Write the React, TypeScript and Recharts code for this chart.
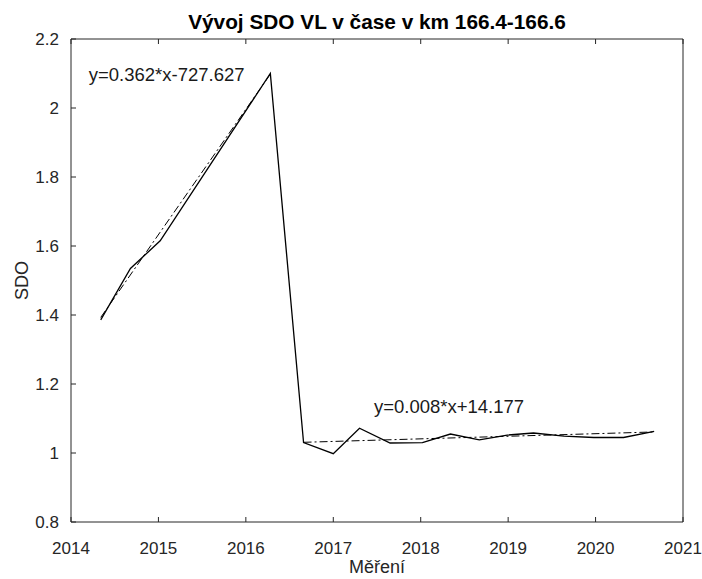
import React from 'react';
import { LineChart, Line, XAxis, YAxis, ReferenceDot } from 'recharts';

// roky měření a hodnoty SDO
const roky = [2014.34, 2014.68, 2015.02, 2016.28, 2016.66, 2017.0, 2017.3, 2017.65, 2018.02, 2018.34, 2018.67, 2018.99, 2019.29, 2019.64, 2019.98, 2020.32, 2020.67];
const sdo = [1.386, 1.535, 1.615, 2.1, 1.03, 0.998, 1.072, 1.029, 1.03, 1.055, 1.038, 1.052, 1.058, 1.049, 1.045, 1.045, 1.063];

// lineární trendy (dva úseky)
const trend1X = [2014.34, 2016.28];
const trend1Y = [1.393, 2.098];
const trend2X = [2016.66, 2020.67];
const trend2Y = [1.031, 1.061];

const xTicks = [2014, 2015, 2016, 2017, 2018, 2019, 2020, 2021];
const yTicks = [0.8, 1, 1.2, 1.4, 1.6, 1.8, 2, 2.2];

const titulek = 'Vývoj SDO VL v čase v km 166.4-166.6';
const rovnice1 = 'y=0.362*x-727.627';
const rovnice2 = 'y=0.008*x+14.177';

const data = roky.map((x, i) => ({ x, y: sdo[i] }));
const trend1 = trend1X.map((x, i) => ({ x, y: trend1Y[i] }));
const trend2 = trend2X.map((x, i) => ({ x, y: trend2Y[i] }));

const ink = '#262626';
const TICK = 5;
const fmtY = (v: number) => String(Number(v.toFixed(1)));

// ticks drawn inward (MATLAB style) together with the label
const BottomTick = (props: any) => {
  const { x, y, payload } = props;
  const axisY = y - 20;
  return (
    <g>
      <line x1={x} x2={x} y1={axisY} y2={axisY - TICK} stroke={ink} />
      <text x={x} y={y} dy="0.71em" textAnchor="middle" fontSize={17} fill={ink}>{payload.value}</text>
    </g>
  );
};

const LeftTick = (props: any) => {
  const { x, y, payload } = props;
  const axisX = x + 12;
  return (
    <g>
      <line x1={axisX} x2={axisX + TICK} y1={y} y2={y} stroke={ink} />
      <text x={x} y={y} dy="0.355em" textAnchor="end" fontSize={17} fill={ink}>{fmtY(payload.value)}</text>
    </g>
  );
};

export default function App() {
  return (
    <div style={{ position: 'absolute', left: 0, top: 0, fontFamily: '"Liberation Sans", Arial, sans-serif', background: '#fff' }}>
      <LineChart width={702} height={579} data={data} margin={{ top: 39, right: 19, left: 0, bottom: 0 }}>
        <XAxis
          dataKey="x"
          type="number"
          domain={[2014, 2021]}
          ticks={xTicks}
          height={57}
          stroke={ink}
          tickLine={false}
          tickSize={0}
          tickMargin={20}
          tick={<BottomTick />}
          label={{ value: 'Měření', position: 'insideBottom', offset: 6, fontSize: 18, fill: ink }}
        />
        <XAxis
          xAxisId="top"
          dataKey="x"
          type="number"
          orientation="top"
          domain={[2014, 2021]}
          ticks={xTicks}
          height={1}
          mirror
          stroke={ink}
          tickSize={TICK}
          tickFormatter={() => ''}
          label={{ value: titulek, position: 'top', offset: 10, fontSize: 20.8, fontWeight: 'bold', fill: '#000' }}
        />
        <YAxis
          type="number"
          domain={[0.8, 2.2]}
          ticks={yTicks}
          width={71}
          stroke={ink}
          tickLine={false}
          tickSize={0}
          tickMargin={12}
          tick={<LeftTick />}
          label={{ value: 'SDO', angle: -90, position: 'insideLeft', offset: 22, fontSize: 18, fill: ink, style: { textAnchor: 'middle' } }}
        />
        <YAxis
          yAxisId="right"
          orientation="right"
          type="number"
          domain={[0.8, 2.2]}
          ticks={yTicks}
          width={1}
          mirror
          stroke={ink}
          tickSize={TICK}
          tickFormatter={() => ''}
        />
        <Line data={trend1} dataKey="y" stroke="#000" strokeWidth={1} strokeDasharray="8 3 2 3" dot={false} isAnimationActive={false} />
        <Line data={trend2} dataKey="y" stroke="#000" strokeWidth={1} strokeDasharray="8 3 2 3" dot={false} isAnimationActive={false} />
        <Line dataKey="y" stroke="#000" strokeWidth={1.3} dot={false} isAnimationActive={false} />
        <ReferenceDot x={2015.094} y={2.098} r={0} stroke="none" label={{ value: rovnice1, position: 'center', fontSize: 18.5, fill: '#1a1a1a' }} />
        <ReferenceDot x={2018.324} y={1.134} r={0} stroke="none" label={{ value: rovnice2, position: 'center', fontSize: 18.5, fill: '#1a1a1a' }} />
      </LineChart>
    </div>
  );
}
